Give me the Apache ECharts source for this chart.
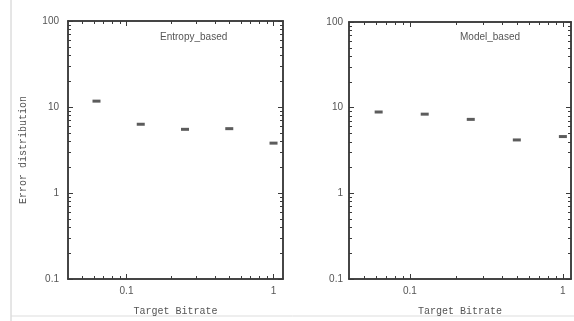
<!DOCTYPE html>
<html>
<head>
<meta charset="utf-8">
<script src="https://cdn.jsdelivr.net/npm/echarts@6/dist/echarts.min.js"></script>
<style>
html, body { margin: 0; padding: 0; background: #fff; }
#chart { width: 574px; height: 321px; }
</style>
</head>
<body>
<div id="chart"></div>
<script>
// data
const bitrates = [0.0625, 0.125, 0.25, 0.5, 1];
const entropyBased = [11.7, 6.3, 5.5, 5.6, 3.8];
const modelBased = [8.9, 8.4, 7.3, 4.2, 4.6];
const panelTitles = ['Entropy_based', 'Model_based'];

// tick values
const xMajorTicks = [0.1, 1];
const yMajorTicks = [0.1, 1, 10, 100];
const xMinorTicks = [0.05, 0.06, 0.07, 0.08, 0.09, 0.2, 0.3, 0.4, 0.5, 0.6, 0.7, 0.8, 0.9];
const yMinorTicks = [0.2, 0.3, 0.4, 0.5, 0.6, 0.7, 0.8, 0.9, 2, 3, 4, 5, 6, 7, 8, 9, 20, 30, 40, 50, 60, 70, 80, 90];

const lineColor = '#3a3a3a';
const textColor = '#555';
const monoFont = 'Liberation Mono';

const grids = [
    { left: 68, top: 21, width: 215, height: 263 },
    { left: 349, top: 22, width: 222, height: 263 }
];
const xMax = [1.16, 1.13];

// one axis of the box; main ones carry labels and the line, extra ones only ticks
function makeAxis(kind, gridIndex, position, ticks, len, showLabel, extra) {
    const isX = kind === 'x';
    return Object.assign({
        type: 'log',
        logBase: 10,
        gridIndex: gridIndex,
        position: position,
        min: isX ? 0.04 : 0.1,
        max: isX ? xMax[gridIndex] : 100,
        splitLine: { show: false },
        axisLine: { show: true, onZero: false, lineStyle: { color: lineColor, width: 1.5 } },
        axisTick: { show: true, inside: true, length: len, customValues: ticks, lineStyle: { color: lineColor, width: 1 } },
        axisLabel: {
            show: showLabel,
            customValues: isX ? xMajorTicks : yMajorTicks,
            color: textColor,
            fontSize: 10,
            fontFamily: 'Liberation Sans',
            margin: isX ? 7 : (gridIndex === 0 ? 9 : 6)
        }
    }, extra || {});
}

const xAxes = [];
const yAxes = [];
grids.forEach((g, i) => {
    xAxes.push(makeAxis('x', i, 'bottom', xMajorTicks, 5, true, {
        name: 'Target Bitrate',
        nameLocation: 'middle',
        nameGap: 27,
        nameTextStyle: { fontFamily: monoFont, fontSize: 10, color: textColor }
    }));
    xAxes.push(makeAxis('x', i, 'top', xMajorTicks, 5, false));
    xAxes.push(makeAxis('x', i, 'bottom', xMinorTicks, 3, false));
    xAxes.push(makeAxis('x', i, 'top', xMinorTicks, 3, false));

    const yName = i === 0 ? {
        name: 'Error distribution',
        nameLocation: 'middle',
        nameGap: 40,
        nameTextStyle: { fontFamily: monoFont, fontSize: 10, color: textColor }
    } : {};
    yAxes.push(makeAxis('y', i, 'left', yMajorTicks, 5, true, yName));
    yAxes.push(makeAxis('y', i, 'right', yMajorTicks, 5, false));
    yAxes.push(makeAxis('y', i, 'left', yMinorTicks, 3, false));
    yAxes.push(makeAxis('y', i, 'right', yMinorTicks, 3, false));
});

function pairs(values) {
    return bitrates.map((b, i) => [b, values[i]]);
}

const option = {
    animation: false,
    backgroundColor: '#fff',
    title: [
        { text: panelTitles[0], left: 155, top: 27, textStyle: { fontSize: 10, fontWeight: 'normal', color: textColor, fontFamily: 'Liberation Sans' } },
        { text: panelTitles[1], left: 455, top: 27, textStyle: { fontSize: 10, fontWeight: 'normal', color: textColor, fontFamily: 'Liberation Sans' } }
    ],
    grid: grids,
    xAxis: xAxes,
    yAxis: yAxes,
    series: [
        {
            type: 'scatter',
            xAxisIndex: 0,
            yAxisIndex: 0,
            symbol: 'rect',
            symbolSize: [8, 3],
            itemStyle: { color: '#333' },
            data: pairs(entropyBased)
        },
        {
            type: 'scatter',
            xAxisIndex: 4,
            yAxisIndex: 4,
            symbol: 'rect',
            symbolSize: [8, 3],
            itemStyle: { color: '#333' },
            data: pairs(modelBased)
        }
    ],
    // faint edges of the scanned page
    graphic: [
        { type: 'line', shape: { x1: 11, y1: 0, x2: 11, y2: 321 }, style: { stroke: '#ccc', lineWidth: 1 } },
        { type: 'line', shape: { x1: 11, y1: 316, x2: 574, y2: 316 }, style: { stroke: '#ddd', lineWidth: 1 } }
    ]
};

const myChart = echarts.init(document.getElementById('chart'));
myChart.setOption(option);
</script>
</body>
</html>
